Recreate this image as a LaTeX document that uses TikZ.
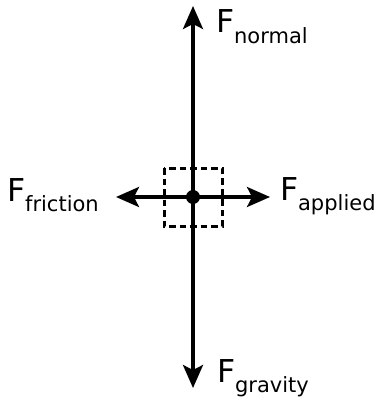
\documentclass[tikz,border=0pt]{standalone}
\usepackage{fontspec}
\setmainfont{DejaVu Sans}
\usetikzlibrary{arrows.meta}
\newcommand{\forcelabel}[1]{{\fontsize{31.5}{31.5}\selectfont F}\raisebox{-10.7pt}{\fontsize{21}{21}\selectfont #1}}
\begin{document}
\begin{tikzpicture}[x=1pt,y=-1pt,
  force/.style={line width=3.3pt,-{Stealth[length=23pt,width=20pt,inset=5pt]}},
  lbl/.style={anchor=base west,inner sep=0pt,outer sep=0pt}]
\useasboundingbox (0,0) rectangle (382,398);
\coordinate (c) at (193,197);
\coordinate (top) at (193,6);
\coordinate (bot) at (193,388);
\coordinate (lft) at (116,197);
\coordinate (rgt) at (270,197);
\draw[line width=3pt,dash pattern=on 6.5pt off 4pt] (164,168) rectangle (222,226);
\draw[force] (c) -- (top);
\draw[force] (c) -- (bot);
\draw[force] (c) -- (lft);
\draw[force] (c) -- (rgt);
\fill (c) circle (7pt);
\node[lbl] (fn) at (216,32.5) {\forcelabel{normal}};
\node[lbl] (ff) at (7,201) {\forcelabel{friction}};
\node[lbl] (fa) at (280,200) {\forcelabel{applied}};
\node[lbl] (fg) at (217,382) {\forcelabel{gravity}};
\end{tikzpicture}
\end{document}
